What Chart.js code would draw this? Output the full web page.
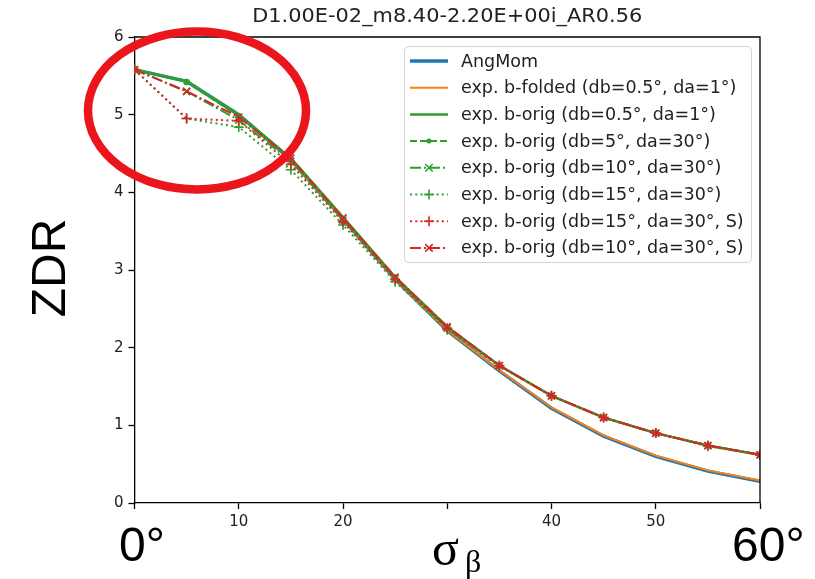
<!DOCTYPE html>
<html>
<head>
<meta charset="utf-8">
<script src="https://cdn.jsdelivr.net/npm/chart.js@4.4.1/dist/chart.umd.min.js"></script>
<style>
  html, body { margin: 0; padding: 0; background: #fff; }
  #wrap { width: 815px; height: 579px; position: relative; }
</style>
</head>
<body>
<div id="wrap"><canvas id="zdr-chart" width="815" height="579"></canvas></div>
<script>
// sigma_beta (deg)
const sigmaBeta = [0, 5, 10, 15, 20, 25, 30, 35, 40, 45, 50, 55, 60];

const angMom      = [5.58, 5.43, 5.00, 4.42, 3.66, 2.88, 2.22, 1.70, 1.22, 0.86, 0.60, 0.41, 0.28];
const bFolded     = [5.58, 5.43, 5.00, 4.42, 3.66, 2.88, 2.22, 1.71, 1.23, 0.87, 0.61, 0.42, 0.29];
const bOrig05     = [5.58, 5.43, 5.00, 4.44, 3.68, 2.91, 2.27, 1.77, 1.38, 1.10, 0.90, 0.74, 0.62];
const bOrig5      = [5.58, 5.42, 4.98, 4.42, 3.66, 2.90, 2.26, 1.77, 1.38, 1.10, 0.90, 0.74, 0.62];
const bOrig10     = [5.58, 5.30, 4.93, 4.40, 3.64, 2.89, 2.25, 1.77, 1.38, 1.10, 0.90, 0.74, 0.62];
const bOrig15     = [5.58, 4.95, 4.84, 4.29, 3.58, 2.85, 2.23, 1.76, 1.38, 1.10, 0.90, 0.73, 0.62];
const bOrig15S    = [5.58, 4.95, 4.92, 4.36, 3.62, 2.88, 2.25, 1.77, 1.38, 1.10, 0.90, 0.74, 0.62];
const bOrig10S    = [5.58, 5.30, 4.97, 4.44, 3.67, 2.91, 2.27, 1.77, 1.38, 1.10, 0.90, 0.74, 0.62];

const labels = [
  'AngMom',
  'exp. b-folded (db=0.5°, da=1°)',
  'exp. b-orig (db=0.5°, da=1°)',
  'exp. b-orig (db=5°, da=30°)',
  'exp. b-orig (db=10°, da=30°)',
  'exp. b-orig (db=15°, da=30°)',
  'exp. b-orig (db=15°, da=30°, S)',
  'exp. b-orig (db=10°, da=30°, S)'
];
const titleText = 'D1.00E-02_m8.40-2.20E+00i_AR0.56';
const xTickLabels = [10, 20, 40, 50];
const yTicks = [0, 1, 2, 3, 4, 5, 6];

const BLUE = '#1f77b4', ORANGE = '#ff7f0e', GREEN = '#2ca02c', RED = '#d62728';

const series = [
  { data: angMom,   color: BLUE,   width: 3.5, dash: [],            marker: false,     radius: 0 },
  { data: bFolded,  color: ORANGE, width: 2,   dash: [],            marker: false,     radius: 0 },
  { data: bOrig05,  color: GREEN,  width: 2.5, dash: [],            marker: false,     radius: 0 },
  { data: bOrig5,   color: GREEN,  width: 2,   dash: [7, 3],        marker: 'circle',  radius: 2.5 },
  { data: bOrig10,  color: GREEN,  width: 2,   dash: [11, 3, 2, 3], marker: 'crossRot', radius: 5 },
  { data: bOrig15,  color: GREEN,  width: 2,   dash: [2, 3.3],      marker: 'cross',   radius: 5 },
  { data: bOrig15S, color: RED,    width: 2,   dash: [2, 3.3],      marker: 'cross',   radius: 5 },
  { data: bOrig10S, color: RED,    width: 2,   dash: [11, 3, 2, 3], marker: 'crossRot', radius: 5 }
];

function pts(arr) {
  return arr.map(function(v, i) { return { x: sigmaBeta[i], y: v }; });
}

const datasets = series.map(function(s, i) {
  return {
    label: labels[i],
    data: pts(s.data),
    borderColor: s.color,
    backgroundColor: s.color,
    borderWidth: s.width,
    borderDash: s.dash,
    pointStyle: s.marker || 'circle',
    pointRadius: s.radius,
    pointBorderWidth: 1.6,
    pointBorderColor: s.color,
    pointBackgroundColor: s.color,
    tension: 0,
    fill: false,
    order: 10 - i
  };
});

function drawMarker(ctx, style, x, y, r, color) {
  ctx.save();
  ctx.strokeStyle = color; ctx.fillStyle = color; ctx.lineWidth = 1.6; ctx.setLineDash([]);
  ctx.beginPath();
  if (style === 'circle') {
    ctx.arc(x, y, r, 0, Math.PI * 2); ctx.fill();
  } else if (style === 'cross') {
    ctx.moveTo(x - r, y); ctx.lineTo(x + r, y); ctx.moveTo(x, y - r); ctx.lineTo(x, y + r); ctx.stroke();
  } else if (style === 'crossRot') {
    const d = r * 0.75;
    ctx.moveTo(x - d, y - d); ctx.lineTo(x + d, y + d); ctx.moveTo(x + d, y - d); ctx.lineTo(x - d, y + d); ctx.stroke();
  }
  ctx.restore();
}

const decorPlugin = {
  id: 'decor',
  afterDatasetsDraw(chart) {
    const ctx = chart.ctx;
    const a = chart.chartArea;
    ctx.save();
    // top and right spines
    ctx.strokeStyle = '#000'; ctx.lineWidth = 1.3;
    ctx.beginPath();
    ctx.moveTo(a.left, a.top); ctx.lineTo(a.right, a.top); ctx.lineTo(a.right, a.bottom);
    ctx.stroke();

    // title, centred over the plot area (narrow face like the source)
    ctx.save();
    ctx.font = '20px "DejaVu Sans"';
    ctx.fillStyle = '#222';
    ctx.textBaseline = 'middle';
    const tw = ctx.measureText(titleText).width;
    const sx = 390 / tw;
    ctx.translate((a.left + a.right) / 2 - 195, 17);
    ctx.scale(sx, 1);
    ctx.fillText(titleText, 0, 0);
    ctx.restore();

    // legend box
    const bx = 404, by = 46, bw = 347, bh = 216;
    ctx.fillStyle = 'rgba(255,255,255,0.85)';
    ctx.strokeStyle = '#d4d4d4'; ctx.lineWidth = 1;
    ctx.beginPath();
    ctx.roundRect(bx + 0.5, by + 0.5, bw, bh, 4);
    ctx.fill(); ctx.stroke();
    ctx.font = '17.5px "DejaVu Sans"';
    ctx.textBaseline = 'middle';
    series.forEach(function(s, i) {
      const y = 61 + i * 26.7;
      ctx.save();
      ctx.strokeStyle = s.color; ctx.lineWidth = s.width; ctx.setLineDash(s.dash);
      ctx.beginPath(); ctx.moveTo(410, y); ctx.lineTo(448, y); ctx.stroke();
      ctx.restore();
      if (s.marker) drawMarker(ctx, s.marker, 429, y, s.radius, s.color);
      ctx.fillStyle = '#222';
      ctx.fillText(labels[i], 461, y + 1);
    });

    // large annotation labels
    ctx.fillStyle = '#000';
    ctx.textBaseline = 'alphabetic';
    ctx.font = '48px "Liberation Sans"';
    ctx.fillText('0°', 119, 561);
    ctx.fillText('60°', 732, 561);
    ctx.save();
    ctx.translate(65, 268);
    ctx.rotate(-Math.PI / 2);
    ctx.textAlign = 'center';
    ctx.fillText('ZDR', 0, 0);
    ctx.restore();
    ctx.font = '50px "Liberation Serif"';
    ctx.fillText('σ', 432, 565);
    ctx.font = '32px "Liberation Serif"';
    ctx.fillText('β', 465, 572);

    // red highlight ellipse
    ctx.strokeStyle = '#ea161c'; ctx.lineWidth = 8.5;
    ctx.beginPath();
    ctx.ellipse(197, 110.5, 109, 79, 0, 0, Math.PI * 2);
    ctx.stroke();
    ctx.restore();
  }
};

new Chart(document.getElementById('zdr-chart'), {
  type: 'line',
  data: { datasets: datasets },
  options: {
    responsive: false,
    animation: false,
    layout: { padding: { left: 0, right: 55, top: 37, bottom: 0 } },
    plugins: {
      legend: { display: false },
      tooltip: { enabled: false },
      title: { display: false }
    },
    scales: {
      x: {
        type: 'linear', min: 0, max: 60,
        afterFit: function(s) { s.height = 76; },
        afterBuildTicks: function(s) { s.ticks = sigmaBeta.filter(function(v) { return v % 10 === 0; }).map(function(v) { return { value: v }; }); },
        ticks: {
          color: '#222', padding: 4, maxRotation: 0, autoSkip: false,
          font: { family: 'DejaVu Sans', size: 15 },
          callback: function(v) { return xTickLabels.indexOf(v) >= 0 ? String(v) : ''; }
        },
        grid: { drawOnChartArea: false, tickLength: 6, tickColor: '#000', tickWidth: 1.3 },
        border: { display: true, color: '#000', width: 1.3 }
      },
      y: {
        type: 'linear', min: 0, max: 6,
        afterFit: function(s) { s.width = 134.5; },
        afterBuildTicks: function(s) { s.ticks = yTicks.map(function(v) { return { value: v }; }); },
        ticks: {
          color: '#222', padding: 5,
          font: { family: 'DejaVu Sans', size: 15 }
        },
        grid: { drawOnChartArea: false, tickLength: 6, tickColor: '#000', tickWidth: 1.3 },
        border: { display: true, color: '#000', width: 1.3 }
      }
    }
  },
  plugins: [decorPlugin]
});
</script>
</body>
</html>
